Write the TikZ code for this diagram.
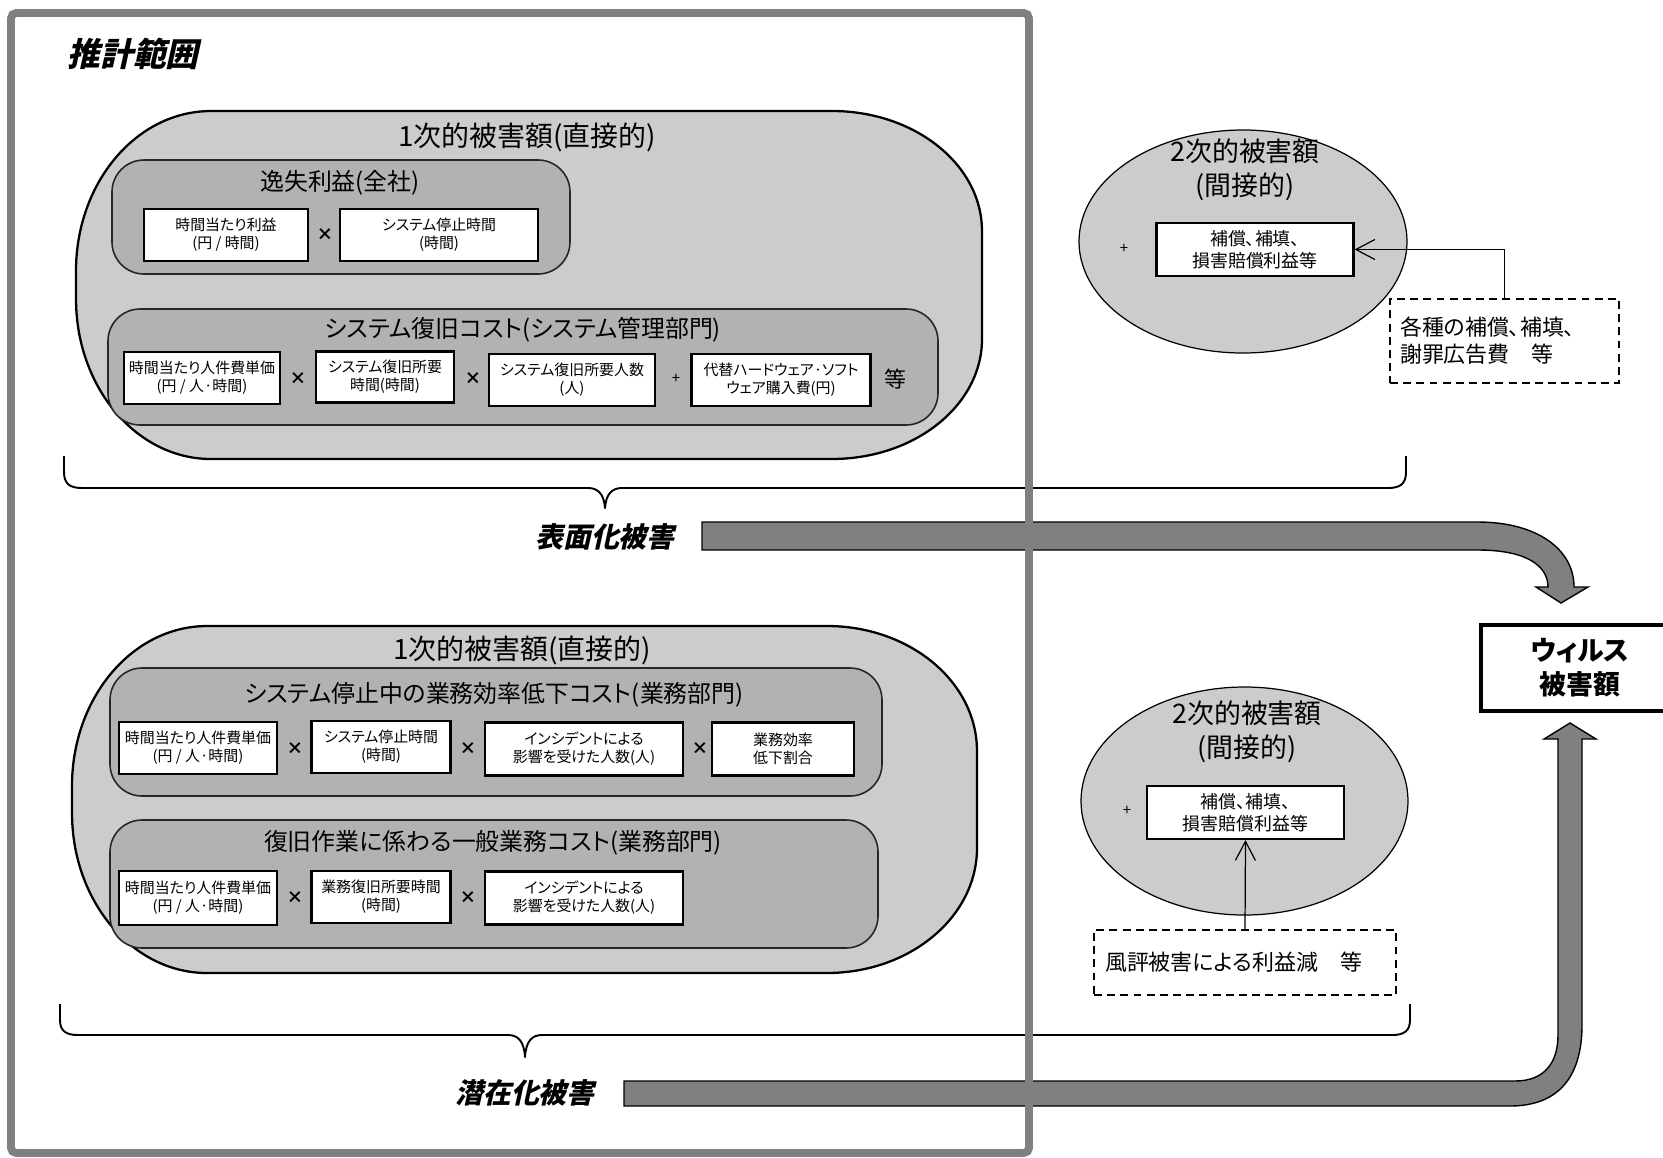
\documentclass[tikz,border=0pt]{standalone}
\usepackage{fontspec}
\setmainfont{Noto Sans CJK JP}[RawFeature=+palt]
\newfontfamily\jpbi{Noto Sans CJK JP}[RawFeature=+palt,FakeSlant=0.22]
\usetikzlibrary{arrows.meta,shapes.geometric}
\definecolor{framegray}{RGB}{128,128,128}
\definecolor{boxgray}{RGB}{204,204,204}
\definecolor{innergray}{RGB}{178,178,178}
\definecolor{arrowgray}{RGB}{128,128,128}
\newcommand\fsz[2]{\fontsize{#1}{#2}\selectfont}
\begin{document}
\begin{tikzpicture}[x=0.02cm,y=-0.02cm,
  sz/.style 2 args={minimum width={#1*0.02cm},minimum height={#2*0.02cm}},
  bigbox/.style={draw=black,line width=1.3pt,fill=boxgray},
  inbox/.style={draw=black!85,line width=0.9pt,fill=innergray,rounded corners=0.64cm},
  valbox/.style={draw=black,line width=1.5pt,fill=white,align=center,inner sep=0pt,font=\fsz{8.5pt}{10.2pt}},
  op/.style={inner sep=0pt,font=\fsz{9.5pt}{10pt}\bfseries},
  plus/.style={inner sep=0pt,font=\fsz{8.5pt}{10pt}},
  bigtitle/.style={inner sep=0pt,font=\fsz{15.9pt}{18pt}},
  midtitle/.style={inner sep=0pt,font=\fsz{13.6pt}{16pt}},
  boldit/.style={inner sep=0pt,font=\jpbi\bfseries\fsz{15.9pt}{18pt}},
  ell/.style={ellipse,draw=black,line width=0.7pt,fill=boxgray,inner sep=0pt},
  ettl/.style={inner sep=0pt,align=center,font=\fsz{15.3pt}{19.3pt}},
  compbox/.style={draw=black,line width=1.2pt,fill=white,align=center,inner sep=0pt,font=\fsz{10.2pt}{12.5pt}},
  dashbox/.style={draw=black,dashed,dash pattern=on 4.5pt off 3pt,line width=0.7pt,align=left,inner sep=0pt,font=\fsz{12.5pt}{15.3pt}},
  thinarrow/.style={line width=0.7pt,-{Straight Barb[length=0.38cm,width=0.4cm]}},
  bracepath/.style={line width=1.1pt,line join=round},
  blockarrow/.style={fill=arrowgray,draw=black,line width=0.8pt,line join=miter},
  virusbox/.style={draw=black,line width=2pt,fill=white,align=center,inner sep=0pt,font=\bfseries\fsz{15.3pt}{19.3pt}}
]
\useasboundingbox (0,0) rectangle (1663,1157);
\fill[white] (0,0) rectangle (1663,1157);

% ---------- upper primary damage ----------
\path[bigbox] (211,111) -- (832,111) arc[start angle=90,end angle=0,x radius=3cm,y radius=2.4cm]
  -- (982,339) arc[start angle=0,end angle=-90,x radius=3cm,y radius=2.4cm]
  -- (211,459) arc[start angle=270,end angle=180,x radius=2.7cm,y radius=3.2cm]
  -- (76,271) arc[start angle=180,end angle=90,x radius=2.7cm,y radius=3.2cm] -- cycle;
\node[bigtitle] (tA) at (527,137) {1次的被害額(直接的)};

\draw[inbox] (112,160) rectangle (570,274);
\node[midtitle] (tA1) at (340,183) {逸失利益(全社)};
\node[valbox,sz={164}{52}] (a1) at (226,235) {時間当たり利益\\(円 / 時間)};
\node[op] (opA) at (325,235) {×};
\node[valbox,sz={198}{52}] (a2) at (439,235) {システム停止時間\\(時間)};

\draw[inbox] (108,309) rectangle (938,425);
\node[midtitle] (tA2) at (523,330) {システム復旧コスト(システム管理部門)};
\node[valbox,sz={156}{52}] (b1) at (202,378) {時間当たり人件費単価\\(円 / 人·時間)};
\node[op] (opB1) at (298,379) {×};
\node[valbox,sz={138}{51}] (b2) at (385,377) {システム復旧所要\\時間(時間)};
\node[op] (opB2) at (473,379) {×};
\node[valbox,sz={166}{52}] (b3) at (572,380) {システム復旧所要人数\\(人)};
\node[plus] (opB3) at (676,379) {+};
\node[valbox,sz={179}{52}] (b4) at (781,380) {代替ハードウェア·ソフト\\ウェア購入費(円)};
\node[inner sep=0pt,font=\fsz{12.5pt}{14pt}] (etc1) at (895,379) {等};

% ---------- lower primary damage ----------
\path[bigbox] (207,626) -- (827,626) arc[start angle=90,end angle=0,x radius=3cm,y radius=2.5cm]
  -- (977,848) arc[start angle=0,end angle=-90,x radius=3cm,y radius=2.5cm]
  -- (207,973) arc[start angle=270,end angle=180,x radius=2.7cm,y radius=3.2cm]
  -- (72,786) arc[start angle=180,end angle=90,x radius=2.7cm,y radius=3.2cm] -- cycle;
\node[bigtitle] (tB) at (522,650) {1次的被害額(直接的)};

\draw[inbox] (110,668) rectangle (882,796);
\node[midtitle] (tB1) at (494,695) {システム停止中の業務効率低下コスト(業務部門)};
\node[valbox,sz={158}{52}] (c1) at (198,748) {時間当たり人件費単価\\(円 / 人·時間)};
\node[op] (opC1) at (295,749) {×};
\node[valbox,sz={139}{52}] (c2) at (381,747) {システム停止時間\\(時間)};
\node[op] (opC2) at (468,749) {×};
\node[valbox,sz={198}{53}] (c3) at (584,749) {インシデントによる\\影響を受けた人数(人)};
\node[op] (opC3) at (700,749) {×};
\node[valbox,sz={142}{53}] (c4) at (783,749) {業務効率\\低下割合};

\draw[inbox] (110,820) rectangle (878,948);
\node[midtitle] (tB2) at (493,843) {復旧作業に係わる一般業務コスト(業務部門)};
\node[valbox,sz={158}{54}] (d1) at (198,898) {時間当たり人件費単価\\(円 / 人·時間)};
\node[op] (opD1) at (295,898) {×};
\node[valbox,sz={139}{52}] (d2) at (381,897) {業務復旧所要時間\\(時間)};
\node[op] (opD2) at (468,898) {×};
\node[valbox,sz={198}{53}] (d3) at (584,898) {インシデントによる\\影響を受けた人数(人)};

% ---------- secondary damage ----------
\node[ell,sz={328}{223}] (e1) at (1243,241.5) {};
\node[ettl] (e1t) at (1245,170) {2次的被害額\\(間接的)};
\node[plus] (plus1) at (1124,249) {+};
\node[compbox,sz={197}{53}] (comp1) at (1255,249.5) {補償、補填、\\損害賠償利益等};
\node[dashbox,sz={229}{84},text width=4.18cm] (dash1) at (1504.5,341) {各種の補償、補填、\\謝罪広告費　等};
\draw[thinarrow] (dash1.north) |- (comp1.east);

\node[ell,sz={327}{228}] (e2) at (1244.5,801) {};
\node[ettl] (e2t) at (1247,732) {2次的被害額\\(間接的)};
\node[plus] (plus2) at (1127,811) {+};
\node[compbox,sz={197}{53}] (comp2) at (1245.5,812.5) {補償、補填、\\損害賠償利益等};
\node[dashbox,sz={302}{65},text width=5.6cm] (dash2) at (1245,962.5) {風評被害による利益減　等};
\draw[thinarrow] (dash2.north) -- (comp2.south);

% ---------- braces ----------
\draw[bracepath] (64,456) -- (64,472) .. controls (64,484) and (70,488) .. (82,488) -- (588,488)
  .. controls (598,488) and (604,494) .. (605,508) .. controls (606,494) and (612,488) .. (622,488)
  -- (1388,488) .. controls (1400,488) and (1406,484) .. (1406,472) -- (1406,456);
\draw[bracepath] (60,1004) -- (60,1020) .. controls (60,1031) and (66,1035) .. (78,1035) -- (508,1035)
  .. controls (518,1035) and (524,1041) .. (525,1057) .. controls (526,1041) and (532,1035) .. (542,1035)
  -- (1392,1035) .. controls (1404,1035) and (1410,1031) .. (1410,1020) -- (1410,1004);

\node[boldit] (surf) at (605,537) {表面化被害};
\node[boldit] (lat) at (525,1093) {潜在化被害};

% ---------- result ----------
\node[virusbox,sz={198}{86}] (virus) at (1580,668) {ウィルス\\被害額};

% ---------- block arrows ----------
\draw[blockarrow] (702,522) -- (1478,522) .. controls (1535,522) and (1574,548) .. (1574,587)
  -- (1588,587) -- (1561,603) -- (1536,587) -- (1548,587)
  .. controls (1548,565) and (1525,550) .. (1478,550) -- (702,550) -- cycle;
\draw[blockarrow] (624,1081) -- (1515,1081) .. controls (1545,1081) and (1558,1062) .. (1558,1035)
  -- (1558,739) -- (1544,739) -- (1570,723) -- (1596,739) -- (1582,739) -- (1582,1025)
  .. controls (1582,1075) and (1560,1106) .. (1510,1106) -- (624,1106) -- cycle;

% ---------- frame ----------
\draw[framegray,line width=4.5pt,rounded corners=3pt] (11,13) rectangle (1029,1153);
\node[inner sep=0pt,font=\jpbi\bfseries\fsz{18.7pt}{20pt}] (scope) at (133,54) {推計範囲};
\end{tikzpicture}
\end{document}
